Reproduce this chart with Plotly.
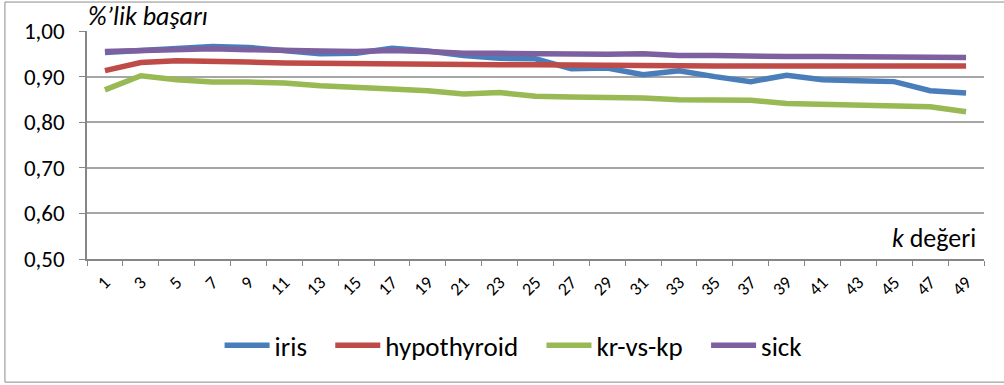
import plotly.graph_objects as go

k_values = [str(k) for k in range(1, 50, 2)]

iris = [0.953, 0.957, 0.962, 0.966, 0.964, 0.956, 0.950, 0.951, 0.962, 0.956,
        0.946, 0.940, 0.939, 0.917, 0.919, 0.904, 0.913, 0.900, 0.889, 0.903,
        0.893, 0.891, 0.889, 0.869, 0.864]
hypothyroid = [0.913, 0.931, 0.935, 0.932, 0.932, 0.930, 0.929, 0.929, 0.928, 0.927,
               0.927, 0.926, 0.926, 0.925, 0.925, 0.924, 0.924, 0.923, 0.923, 0.923,
               0.923, 0.923, 0.923, 0.923, 0.923]
kr_vs_kp = [0.871, 0.902, 0.893, 0.888, 0.888, 0.886, 0.880, 0.875, 0.873, 0.869,
            0.862, 0.865, 0.857, 0.855, 0.855, 0.853, 0.849, 0.847, 0.848, 0.841,
            0.839, 0.837, 0.833, 0.834, 0.823]
sick = [0.955, 0.958, 0.961, 0.961, 0.959, 0.956, 0.956, 0.955, 0.957, 0.955,
        0.951, 0.951, 0.950, 0.950, 0.949, 0.950, 0.946, 0.946, 0.944, 0.944,
        0.944, 0.943, 0.942, 0.943, 0.942]

series = [
    ("iris", iris, "#4A7EBB"),
    ("hypothyroid", hypothyroid, "#BE4B48"),
    ("kr-vs-kp", kr_vs_kp, "#98B954"),
    ("sick", sick, "#7D60A0"),
]

FONT = "Carlito, Lato, sans-serif"
PAD = "\u00a0" * 3

fig = go.Figure()
for i, (name, vals, color) in enumerate(series):
    label = name + (PAD if i < len(series) - 1 else "")
    fig.add_trace(go.Scatter(
        x=k_values, y=vals, name=label, mode="lines",
        line=dict(color=color, width=5.5),
    ))

fig.update_layout(
    width=1004, height=385,
    margin=dict(l=87, r=20, t=31, b=126),
    paper_bgcolor="white", plot_bgcolor="white",
    separators=",.",
    font=dict(family=FONT, color="#000000"),
    showlegend=True,
    legend=dict(
        orientation="h", x=0.475, xanchor="center", y=-0.38, yanchor="middle",
        font=dict(size=27, family=FONT), itemwidth=45, traceorder="normal",
    ),
    xaxis=dict(
        type="category", tickson="boundaries", ticks="outside", ticklen=5,
        tickcolor="#868686", showline=True, linecolor="#868686", linewidth=1.5,
        showgrid=False, tickangle=-45, tickfont=dict(size=18, family=FONT),
        range=[-0.5, 24.5], ticklabelstandoff=4,
    ),
    yaxis=dict(
        range=[0.5, 1.0], dtick=0.1, tickformat=".2f",
        ticks="outside", ticklen=6, tickcolor="#868686",
        showline=True, linecolor="#868686", linewidth=1.5,
        showgrid=True, gridcolor="#A6A6A6", gridwidth=1.5,
        tickfont=dict(size=23, family=FONT), zeroline=False,
        ticklabelstandoff=10,
    ),
    annotations=[
        dict(text="<i>%’lik başarı</i>", xref="paper", yref="paper",
             x=-0.001, y=1.065, xanchor="left", yanchor="middle",
             showarrow=False, font=dict(size=26, family=FONT)),
        dict(text="<i>k</i> değeri", xref="paper", yref="paper",
             x=0.993, y=0.09, xanchor="right", yanchor="middle",
             showarrow=False, font=dict(size=26, family=FONT)),
    ],
    shapes=[
        dict(type="rect", xref="paper", yref="paper",
             x0=-0.0915, x1=1.06, y0=-0.54, y1=1.127,
             line=dict(color="#8C8C8C", width=1), layer="below"),
    ],
)

fig.write_html("out.html")
